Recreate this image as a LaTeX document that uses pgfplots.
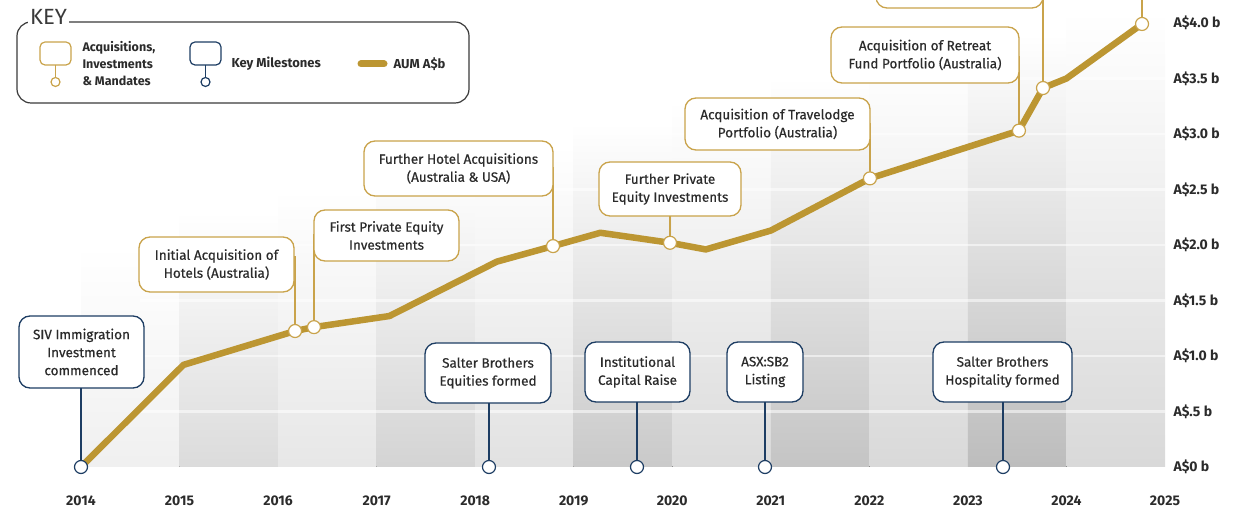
\documentclass[border=0pt]{standalone}
\usepackage{pgfplots}
\pgfplotsset{compat=1.18}
\usepackage{fontspec}
\setmainfont{Fira Sans}
\newfontfamily\medfont{Fira Sans}[FakeBold=0.5]
\definecolor{goldline}{HTML}{BC9632}
\definecolor{goldbox}{HTML}{C9A34B}
\definecolor{navy}{HTML}{1D3D63}
\definecolor{txt}{HTML}{2B2B2B}
\definecolor{keyc}{HTML}{3A3A3A}
\begin{document}
\begin{tikzpicture}
\begin{axis}[
  scale only axis, width=1084pt, height=467pt,
  xmin=2014, xmax=2025, ymin=0, ymax=4.207,
  clip=false,
  axis line style={draw=none},
  major tick length=0pt,
  xtick={2014,2015,2016,2017,2018,2019,2020,2021,2022,2023,2024,2025},
  xticklabels={2014,2015,2016,2017,2018,2019,2020,2021,2022,2023,2024,2025},
  ytick={0,0.5,1,1.5,2,2.5,3,3.5,4},
  yticklabels={A\$0 b,A\$.5 b,A\$1.0 b,A\$1.5 b,A\$2.0 b,A\$2.5 b,A\$3.0 b,A\$3.5 b,A\$4.0 b},
  yticklabel pos=right,
  ticklabel style={font=\bfseries\fontsize{14}{16}\selectfont, text=txt},
  xticklabel style={yshift=-25pt},
  yticklabel style={anchor=west, xshift=5pt},
]
% background columns
\fill[bottom color=gray!12, top color=white] (axis cs:2014,0) rectangle (axis cs:2015,2.0);
\fill[bottom color=gray!28, top color=white] (axis cs:2015,0) rectangle (axis cs:2016,2.3);
\fill[bottom color=gray!19, top color=white] (axis cs:2016,0) rectangle (axis cs:2017,2.5);
\fill[bottom color=gray!34, top color=white] (axis cs:2017,0) rectangle (axis cs:2018,2.7);
\fill[bottom color=gray!23, top color=white] (axis cs:2018,0) rectangle (axis cs:2019,2.9);
\fill[bottom color=gray!42, top color=white] (axis cs:2019,0) rectangle (axis cs:2020,3.1);
\fill[bottom color=gray!28, top color=white] (axis cs:2020,0) rectangle (axis cs:2021,3.3);
\fill[bottom color=gray!46, top color=white] (axis cs:2021,0) rectangle (axis cs:2022,3.5);
\fill[bottom color=gray!30, top color=white] (axis cs:2022,0) rectangle (axis cs:2023,3.7);
\fill[bottom color=gray!52, top color=white] (axis cs:2023,0) rectangle (axis cs:2024,3.9);
\fill[bottom color=gray!30, top color=white] (axis cs:2024,0) rectangle (axis cs:2025,4.1);
\foreach \yy in {0.5,1,1.5,2,2.5,3,3.5}{
  \edef\tmp{\noexpand\draw[white, line width=2.5pt, opacity=0.55] (axis cs:2014.6,\yy) -- (axis cs:2025,\yy);}\tmp
}
% stems milestones
\addplot[navy, line width=1.2pt] coordinates {(2014,0) (2014,1.0)};
\addplot[navy, line width=1.2pt] coordinates {(2018.14,0) (2018.14,0.85)};
\addplot[navy, line width=1.2pt] coordinates {(2019.642,0) (2019.642,0.85)};
\addplot[navy, line width=1.2pt] coordinates {(2020.941,0) (2020.941,0.85)};
\addplot[navy, line width=1.2pt] coordinates {(2023.356,0) (2023.356,0.85)};
% stems acquisitions
\addplot[goldbox, line width=1.2pt] coordinates {(2016.172,1.225) (2016.172,1.9)};
\addplot[goldbox, line width=1.2pt] coordinates {(2016.364,1.26) (2016.364,2.1)};
\addplot[goldbox, line width=1.2pt] coordinates {(2018.79,1.99) (2018.79,2.7)};
\addplot[goldbox, line width=1.2pt] coordinates {(2019.977,2.02) (2019.977,2.5)};
\addplot[goldbox, line width=1.2pt] coordinates {(2022.006,2.60) (2022.006,3.1)};
\addplot[goldbox, line width=1.2pt] coordinates {(2023.518,3.03) (2023.518,3.7)};
\addplot[goldbox, line width=1.2pt] coordinates {(2023.762,3.414) (2023.762,4.3)};
\addplot[goldbox, line width=1.2pt] coordinates {(2024.767,3.991) (2024.767,4.4)};
% AUM line
\addplot[goldline, line width=6.5pt, line join=round, line cap=round] coordinates {
(2014,0) (2015.04,0.92) (2016.172,1.225) (2016.364,1.26) (2017.13,1.36) (2018.22,1.85)
(2018.79,1.99) (2019.27,2.11) (2019.977,2.02) (2020.34,1.96) (2021.0,2.13) (2022.006,2.60)
(2023.518,3.03) (2023.762,3.414) (2024.0,3.50) (2024.767,3.991)};
% markers
\addplot[only marks, mark=*, mark size=6.5pt, mark options={fill=white, draw=goldbox, line width=1.2pt}] coordinates {
(2016.172,1.225) (2016.364,1.26) (2018.79,1.99) (2019.977,2.02) (2022.006,2.60) (2023.518,3.03) (2023.762,3.414) (2024.767,3.991)};
\addplot[only marks, mark=*, mark size=6.5pt, mark options={fill=white, draw=navy, line width=1.2pt}] coordinates {
(2014,0) (2018.14,0) (2019.642,0) (2020.941,0) (2023.356,0)};
\coordinate (TL) at (axis cs:2013.178,4.207);
\coordinate (BR) at (axis cs:2025.812,-0.369);
\end{axis}
\begin{scope}[shift={(TL)}, x=1pt, y=-1pt]
\tikzset{bx/.style={line width=1.3pt, rounded corners=11pt, fill=white},
         bt/.style={align=center, text=txt, font=\medfont\fontsize{13.5}{18}\selectfont}}
% milestone boxes
\draw[bx, draw=navy] (19,316) rectangle (144,388);
\node[bt] at (81.5,352) {SIV Immigration\\Investment\\commenced};
\draw[bx, draw=navy] (425,343) rectangle (551,403);
\node[bt] at (488,373) {Salter Brothers\\Equities formed};
\draw[bx, draw=navy] (585,342) rectangle (690,402);
\node[bt] at (637.5,372) {Institutional\\Capital Raise};
\draw[bx, draw=navy] (727,342) rectangle (803,402);
\node[bt] at (765,372) {ASX:SB2\\Listing};
\draw[bx, draw=navy] (933,342) rectangle (1072,402);
\node[bt] at (1002.5,372) {Salter Brothers\\Hospitality formed};
% acquisition boxes
\draw[bx, draw=goldbox] (139,237) rectangle (294,292);
\node[bt] at (216.5,264.5) {Initial Acquisition of\\Hotels (Australia)};
\draw[bx, draw=goldbox] (314,210) rectangle (459,261);
\node[bt] at (386.5,235.5) {First Private Equity\\Investments};
\draw[bx, draw=goldbox] (364,141) rectangle (553,196);
\node[bt] at (458.5,168.5) {Further Hotel Acquisitions\\(Australia \& USA)};
\draw[bx, draw=goldbox] (599,162) rectangle (741,216);
\node[bt] at (670,189) {Further Private\\Equity Investments};
\draw[bx, draw=goldbox] (685,98) rectangle (870,150);
\node[bt] at (777.5,124) {Acquisition of Travelodge\\Portfolio (Australia)};
\draw[bx, draw=goldbox] (831,27) rectangle (1019,83);
\node[bt] at (925,55) {Acquisition of Retreat\\Fund Portfolio (Australia)};
\draw[bx, draw=goldbox] (876,-47) rectangle (1043,8);
% key
\draw[keyc, line width=1.2pt, rounded corners=14pt] (17,22) rectangle (469,103);
\node[fill=white, inner sep=2pt, anchor=base west, text=keyc, font=\fontsize{22}{24}\selectfont] at (28,25) {KEY};
\draw[goldbox, line width=1.2pt, rounded corners=5pt, fill=white] (40,42) rectangle (71,65);
\draw[goldbox, line width=1.2pt] (55.5,65) -- (55.5,77.5);
\draw[goldbox, line width=1.2pt, fill=white] (55.5,82) circle (4.5);
\node[anchor=west, align=left, text=txt, font=\bfseries\fontsize{12.5}{17}\selectfont] at (79,64) {Acquisitions,\\Investments\\\& Mandates};
\draw[navy, line width=1.2pt, rounded corners=5pt, fill=white] (190,42) rectangle (221,65);
\draw[navy, line width=1.2pt] (205.5,65) -- (205.5,77.5);
\draw[navy, line width=1.2pt, fill=white] (205.5,82) circle (4.5);
\node[anchor=west, text=txt, font=\bfseries\fontsize{13}{15}\selectfont] at (228,64) {Key Milestones};
\draw[goldline, line width=7pt, line cap=round] (361,64) -- (384,64);
\node[anchor=west, text=txt, font=\bfseries\fontsize{13}{15}\selectfont] at (390,64) {AUM A\$b};
\end{scope}
\pgfresetboundingbox
\path[use as bounding box] (TL) rectangle (BR);
\end{tikzpicture}
\end{document}
